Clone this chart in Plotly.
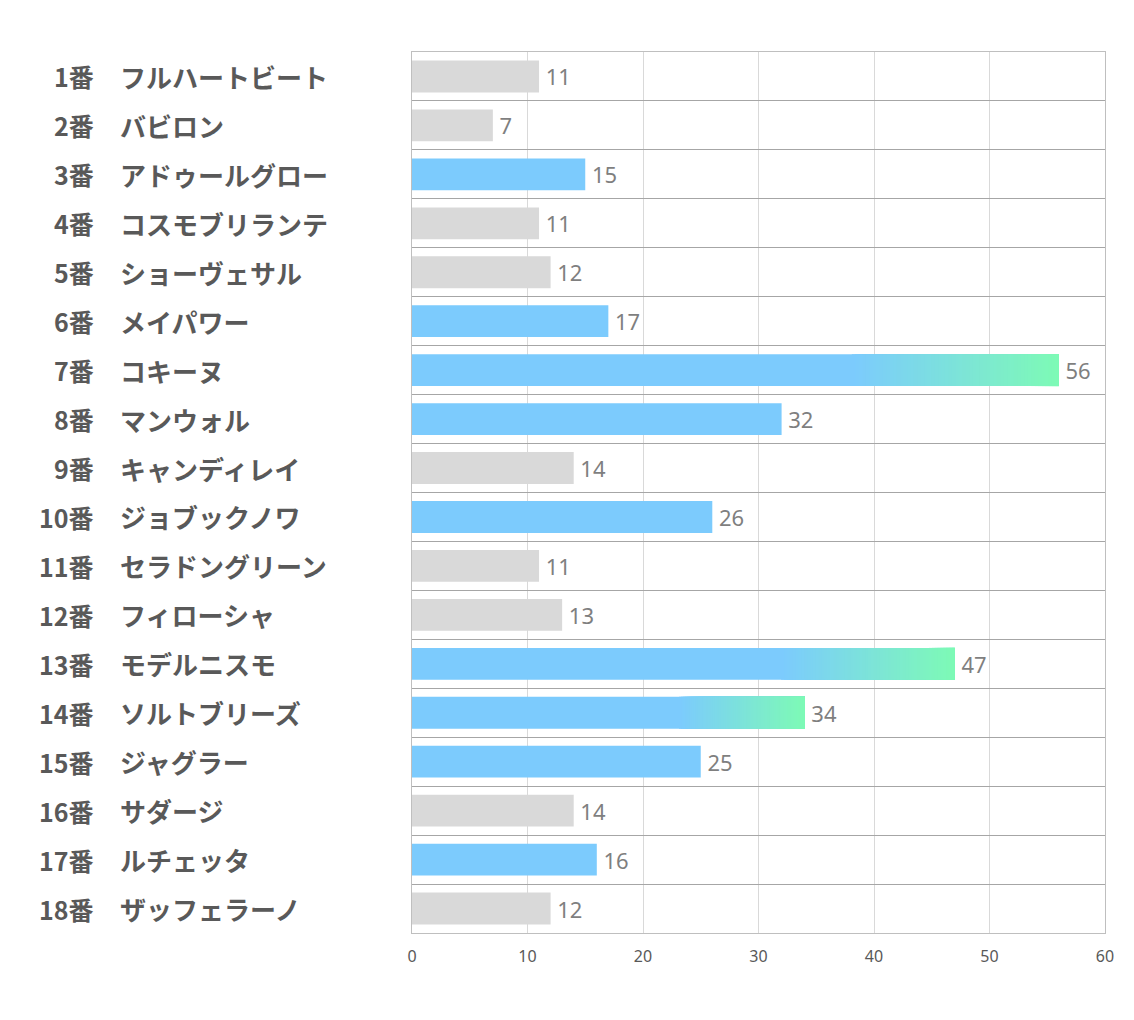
import plotly.graph_objects as go

numbers = [f"{i}番" for i in range(1, 19)]
names = ["フルハートビート", "バビロン", "アドゥールグロー", "コスモブリランテ", "ショーヴェサル",
         "メイパワー", "コキーヌ", "マンウォル", "キャンディレイ", "ジョブックノワ",
         "セラドングリーン", "フィローシャ", "モデルニスモ", "ソルトブリーズ", "ジャグラー",
         "サダージ", "ルチェッタ", "ザッフェラーノ"]
values = [11, 7, 15, 11, 12, 17, 56, 32, 14, 26, 11, 13, 47, 34, 25, 14, 16, 12]
highlight = [0, 0, 1, 0, 0, 1, 1, 1, 0, 1, 0, 0, 1, 1, 1, 0, 1, 0]
gradient = [0, 0, 0, 0, 0, 0, 1, 0, 0, 0, 0, 0, 1, 1, 0, 0, 0, 0]
x_ticks = [0, 10, 20, 30, 40, 50, 60]

GRAY = "#d9d9d9"
BLUE = (124, 203, 253)
GREEN = (125, 250, 182)
GRAD_START = 0.68
NSEG = 60

def rgb(c):
    return f"rgb({int(round(c[0]))},{int(round(c[1]))},{int(round(c[2]))})"

fig = go.Figure()

solid_col = [rgb(BLUE) if h else GRAY for h in highlight]
fig.add_trace(go.Bar(y=numbers, x=values, orientation="h",
                     marker=dict(color=solid_col, line=dict(width=0)),
                     hoverinfo="skip", showlegend=False))

gy, gx, gb, gc = [], [], [], []
for cat, v, g in zip(numbers, values, gradient):
    if not g:
        continue
    start = v * GRAD_START
    seg = (v - start) / NSEG
    for k in range(NSEG):
        t = k / (NSEG - 1)
        col = tuple(BLUE[j] + (GREEN[j] - BLUE[j]) * t for j in range(3))
        s = start + k * seg
        gy.append(cat)
        gb.append(s)
        gx.append(v - s)
        gc.append(rgb(col))
fig.add_trace(go.Bar(y=gy, x=gx, base=gb, orientation="h",
                     marker=dict(color=gc, line=dict(width=0)),
                     hoverinfo="skip", showlegend=False))

# invisible full-length bars carrying the value labels
fig.add_trace(go.Bar(y=numbers, x=values, orientation="h",
                     marker=dict(color="rgba(0,0,0,0)", line=dict(width=0)),
                     text=[f"\u2009{v}" for v in values], textposition="outside",
                     cliponaxis=False,
                     textfont=dict(family="Noto Sans, sans-serif", size=22, color="#7f7f7f"),
                     hoverinfo="skip", showlegend=False))

annotations = []
for num, nm in zip(numbers, names):
    annotations.append(dict(xref="paper", yref="y", x=-0.456, y=num, text=f"<b>{num}</b>",
                            showarrow=False, xanchor="right", yanchor="middle",
                            font=dict(family="Noto Sans CJK JP", size=25, color="#595959")))
    annotations.append(dict(xref="paper", yref="y", x=-0.4243, y=num, text=f"<b>{nm}</b>",
                            showarrow=False, xanchor="left", yanchor="middle",
                            font=dict(family="Noto Sans CJK JP", size=26, color="#595959")))

fig.update_layout(
    width=1118, height=1004,
    margin=dict(l=404, r=21, t=44, b=79),
    paper_bgcolor="white", plot_bgcolor="white",
    barmode="overlay", bargap=0.35,
    annotations=annotations,
    xaxis=dict(range=[0, 60], tickvals=x_ticks, showgrid=True, gridcolor="#d9d9d9",
               gridwidth=1, zeroline=False, showline=True, linecolor="#bfbfbf", mirror=True,
               ticks="", tickfont=dict(family="Noto Sans, sans-serif", size=16, color="#595959"),
               ticklabelstandoff=9),
    yaxis=dict(range=[17.5, -0.5], showticklabels=False, tickson="boundaries",
               showgrid=True, gridcolor="#a6a6a6", gridwidth=1, ticks="",
               showline=True, linecolor="#bfbfbf", mirror=True),
)

fig.write_html("out.html")
